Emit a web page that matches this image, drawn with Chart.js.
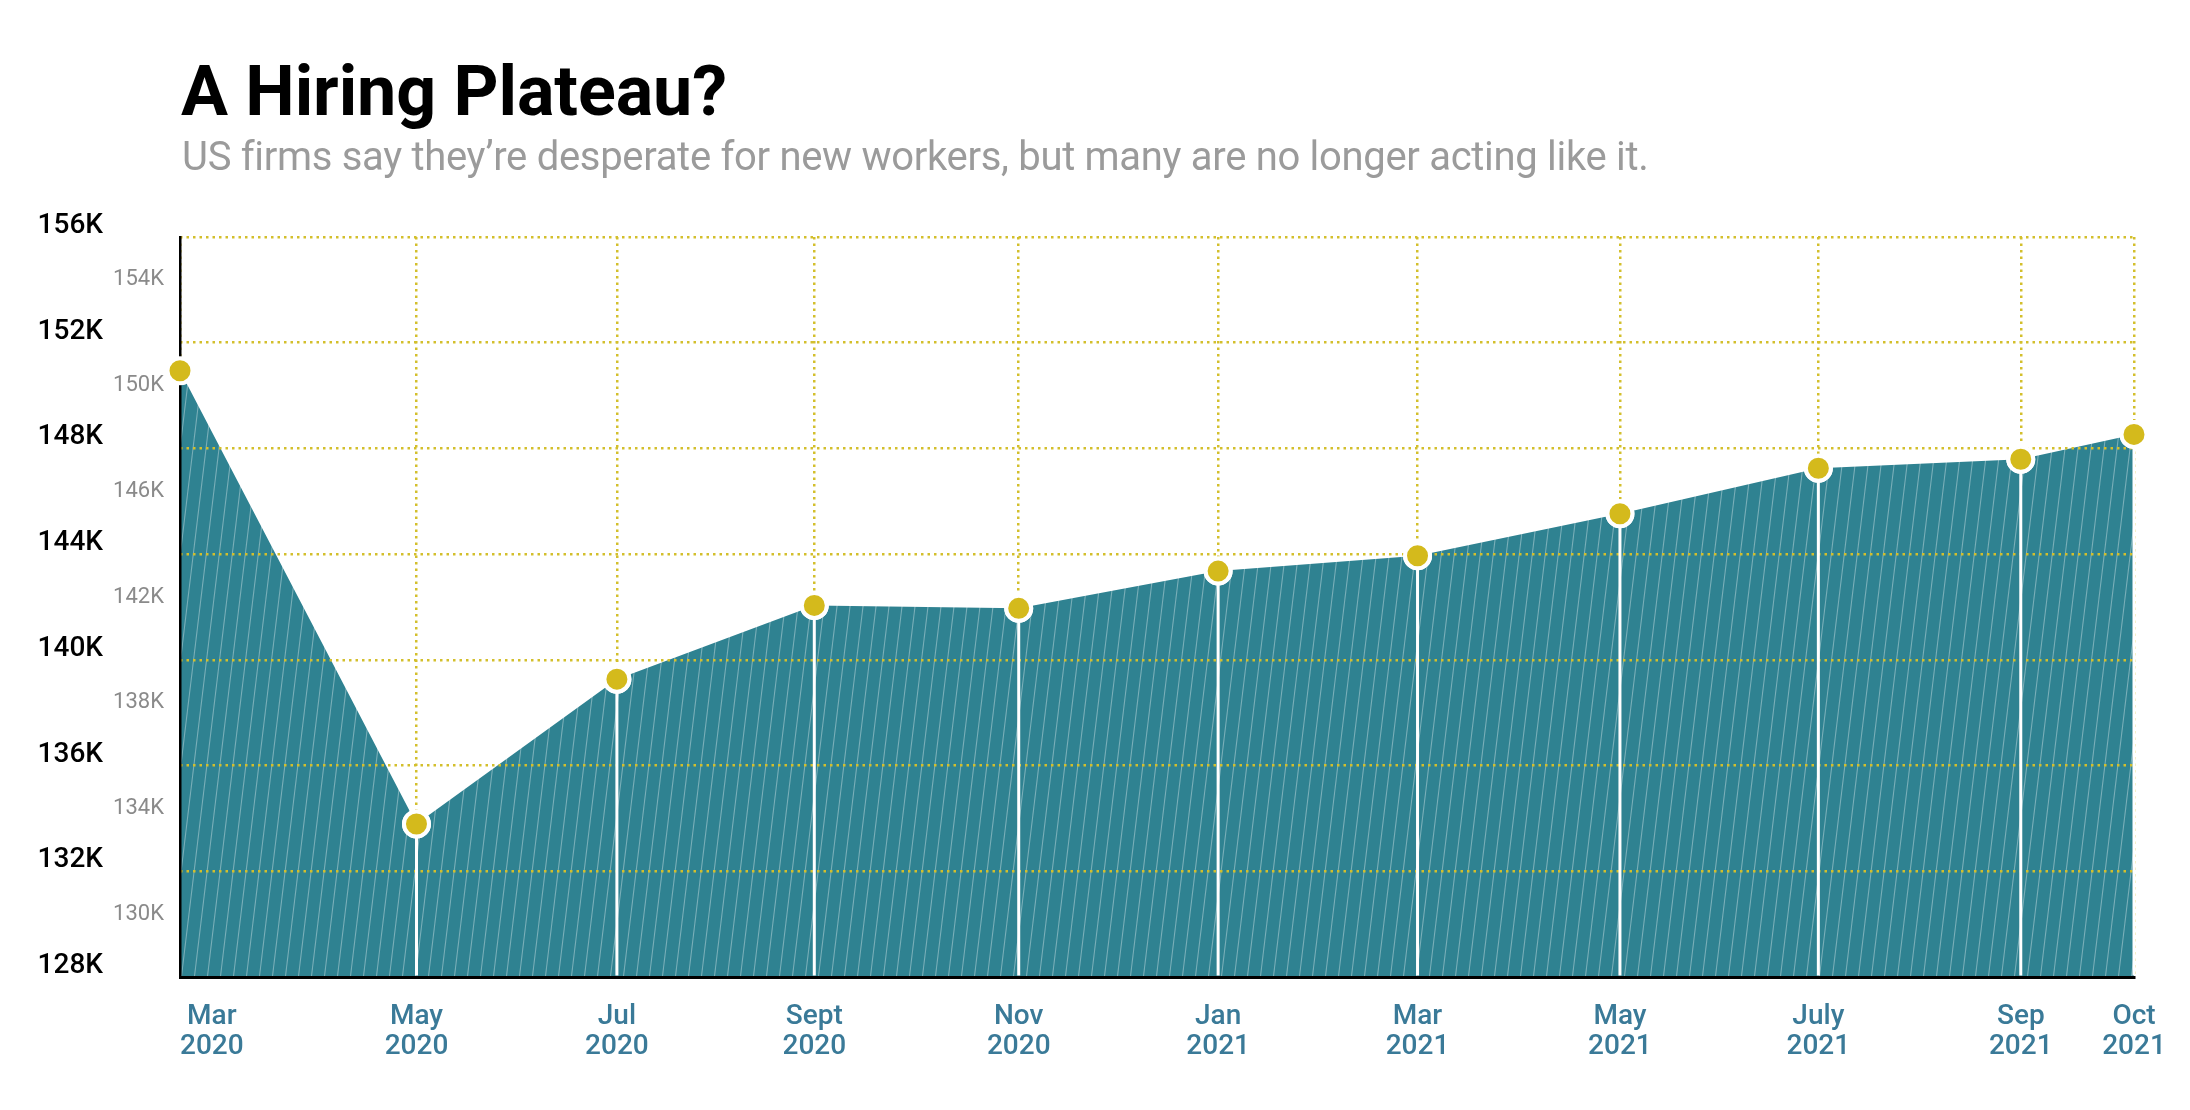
<!DOCTYPE html>
<html>
<head>
<meta charset="utf-8">
<title>A Hiring Plateau?</title>
<script src="https://cdn.jsdelivr.net/npm/chart.js@4.4.0/dist/chart.umd.min.js"></script>
<style>
    html, body { margin: 0; padding: 0; background: #fff; }
    #wrap { position: relative; width: 2190px; height: 1110px; overflow: hidden; }
    #chart { position: absolute; left: 0; top: 0; }
    .chart-title {
        position: absolute; left: 181px; top: 56px;
        font-family: Roboto, sans-serif; font-weight: 700; font-size: 70px;
        line-height: 1; color: #000; white-space: nowrap;
    }
    .chart-subtitle {
        position: absolute; left: 182px; top: 137px;
        font-family: Roboto, sans-serif; font-weight: 400; font-size: 40px;
        line-height: 1; color: #9b9b9b; white-space: nowrap;
    }
</style>
</head>
<body>
<div id="wrap">
    <canvas id="chart" width="2190" height="1110"></canvas>
    <div class="chart-title" id="title">A Hiring Plateau?</div>
    <div class="chart-subtitle" id="subtitle">US firms say they’re desperate for new workers, but many are no longer acting like it.</div>
</div>
<script>
// Data
const monthLabels = ['Mar', 'May', 'Jul', 'Sept', 'Nov', 'Jan', 'Mar', 'May', 'July', 'Sep', 'Oct'];
const yearLabels = ['2020', '2020', '2020', '2020', '2020', '2021', '2021', '2021', '2021', '2021', '2021'];
// position of each reading along the time axis, in months after Mar 2020
const monthPos = [0, 2.36, 4.36, 6.33, 8.37, 10.36, 12.35, 14.37, 16.35, 18.37, 19.5];
// employed people, thousands
const employment = [150940, 133790, 139270, 142060, 141950, 143360, 143940, 145530, 147250, 147590, 148530];

// y axis ticks
const majorTicks = [128000, 132000, 136000, 140000, 144000, 148000, 152000, 156000];
const minorTicks = [130000, 134000, 138000, 142000, 146000, 150000, 154000];

const TEAL = '#2f8291';
const GOLD = '#d4ba1c';
const GRID = '#d3bf2c';
const AXIS_BLUE = '#3a7a98';

// squeeze the heading text to the width it has in the original
function fitWidth(el, target) {
    const n = el.textContent.length;
    const w = el.getBoundingClientRect().width;
    el.style.letterSpacing = ((target - w) / n) + 'px';
}

// teal fill with thin slanted light lines
function makeHatch(ctx) {
    const S = 13, H = 108;
    const c = document.createElement('canvas');
    c.width = S; c.height = H;
    const g = c.getContext('2d');
    g.fillStyle = TEAL;
    g.fillRect(0, 0, S, H);
    g.strokeStyle = 'rgba(225,235,238,0.42)';
    g.lineWidth = 1.1;
    [-S, 0, S].forEach(off => {
        g.beginPath();
        g.moveTo(off, H);
        g.lineTo(off + S, 0);
        g.stroke();
    });
    return ctx.createPattern(c, 'repeat');
}

const kLabel = v => (v / 1000) + 'K';

// white drop lines, points on top, two-line month labels
const overlayPlugin = {
    id: 'overlay',
    afterDraw(chart) {
        const ctx = chart.ctx;
        const area = chart.chartArea;
        const meta = chart.getDatasetMeta(0);

        ctx.save();
        ctx.strokeStyle = '#fff';
        ctx.lineWidth = 3;
        meta.data.forEach((pt, i) => {
            if (i === 0) return;
            ctx.beginPath();
            ctx.moveTo(pt.x, pt.y);
            ctx.lineTo(pt.x, area.bottom - 1.5);
            ctx.stroke();
        });
        ctx.restore();

        meta.data.forEach(pt => pt.draw(ctx, area));

        const xs = chart.scales.x;
        ctx.save();
        ctx.font = '500 28px Roboto';
        ctx.fillStyle = AXIS_BLUE;
        ctx.textAlign = 'center';
        ctx.textBaseline = 'alphabetic';
        monthLabels.forEach((m, i) => {
            let cx = xs.getPixelForValue(monthPos[i]);
            if (i === 0) {
                const w = Math.max(ctx.measureText(m).width, ctx.measureText(yearLabels[i]).width);
                cx += w / 2;
            }
            ctx.fillText(m, cx, area.bottom + 47);
            ctx.fillText(yearLabels[i], cx, area.bottom + 77);
        });
        ctx.restore();
    }
};

function initChart() {
    fitWidth(document.getElementById('title'), 546);
    fitWidth(document.getElementById('subtitle'), 1465);

    const ctx = document.getElementById('chart').getContext('2d');
    const points = monthPos.map((x, i) => ({ x: x, y: employment[i] }));

    new Chart(ctx, {
        type: 'line',
        data: {
            datasets: [{
                data: points,
                fill: 'start',
                backgroundColor: makeHatch(ctx),
                borderWidth: 0,
                tension: 0,
                clip: false,
                pointRadius: 12.5,
                pointBorderWidth: 4,
                pointBackgroundColor: GOLD,
                pointBorderColor: '#fff'
            }]
        },
        options: {
            responsive: false,
            animation: false,
            devicePixelRatio: 1,
            layout: { padding: { left: 0, right: 56, top: 237, bottom: 133 } },
            plugins: {
                legend: { display: false },
                tooltip: { enabled: false }
            },
            scales: {
                x: {
                    type: 'linear',
                    min: monthPos[0],
                    max: monthPos[monthPos.length - 1],
                    afterBuildTicks: s => { s.ticks = monthPos.map(v => ({ value: v })); },
                    afterFit: s => { s.height = 0; },
                    ticks: { display: false },
                    grid: { color: GRID, lineWidth: 2.5, drawTicks: false },
                    border: { display: true, color: '#000', width: 3, z: 2, dash: [2.5, 4] }
                },
                y: {
                    position: 'left',
                    weight: 2,
                    min: majorTicks[0],
                    max: majorTicks[majorTicks.length - 1],
                    afterBuildTicks: s => { s.ticks = majorTicks.map(v => ({ value: v })); },
                    afterFit: s => { s.width = 103; },
                    ticks: {
                        callback: kLabel,
                        color: '#000',
                        padding: 0,
                        labelOffset: -11,
                        font: { family: 'Roboto', size: 28, weight: '500' }
                    },
                    grid: { color: GRID, lineWidth: 2.5, drawTicks: false, z: 1 },
                    border: { display: false, dash: [2.5, 4] }
                },
                yMinor: {
                    position: 'left',
                    weight: 1,
                    min: majorTicks[0],
                    max: majorTicks[majorTicks.length - 1],
                    afterBuildTicks: s => { s.ticks = minorTicks.map(v => ({ value: v })); },
                    afterFit: s => { s.width = 77; },
                    ticks: {
                        callback: kLabel,
                        color: '#8a8a8a',
                        padding: 16,
                        labelOffset: -10,
                        font: { family: 'Roboto', size: 22, weight: '400' }
                    },
                    grid: { display: false, drawTicks: false },
                    border: { display: true, color: '#000', width: 2.5, z: 2 }
                }
            }
        },
        plugins: [overlayPlugin]
    });
}

document.fonts.ready.then(initChart);
</script>
</body>
</html>
